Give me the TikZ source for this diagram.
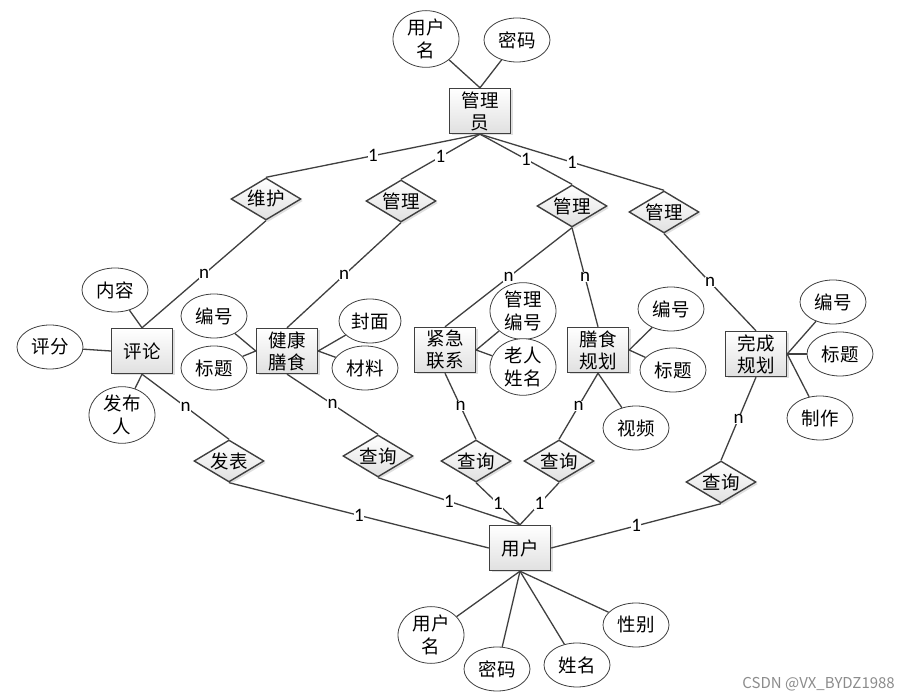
\documentclass[tikz,border=0pt]{standalone}
\usepackage{fontspec}
\setmainfont{Carlito}
\newfontfamily\cjk{Noto Sans CJK SC}
\usetikzlibrary{shapes.geometric,shadows}
\definecolor{ln}{HTML}{404040}
\tikzset{
  ent/.style={rectangle,draw=ln,line width=1.4pt,minimum width=61pt,minimum height=45pt,inner sep=0pt,
    top color=white,bottom color=black!12,align=center,font=\cjk\fontsize{18.5}{22}\selectfont,
    drop shadow={shadow xshift=2pt,shadow yshift=-2pt,opacity=0.25}},
  attr/.style={ellipse,draw=ln,line width=0.8pt,fill=white,minimum width=66pt,minimum height=44pt,inner sep=0pt,
    align=center,font=\cjk\fontsize{18.5}{23}\selectfont},
  rel/.style={diamond,draw=ln,line width=1.4pt,aspect=1.67,minimum width=70pt,minimum height=42pt,inner sep=0pt,
    top color=white,bottom color=black!12,
    drop shadow={shadow xshift=2pt,shadow yshift=-2pt,opacity=0.25}},
  rtext/.style={font=\cjk\fontsize{18.5}{22}\selectfont,inner sep=0pt},
  con/.style={draw=ln,line width=1.3pt},
  card/.style={fill=white,inner sep=0.5pt,font=\fontsize{19}{19}\selectfont,text=black}
}
\begin{document}
\begin{tikzpicture}[x=1pt,y=-1pt]
\useasboundingbox[fill=white] (0,0) rectangle (898,700);
% entities
\node[ent] (admin) at (480,111) {管理\\员};
\node[ent] (pl) at (142,351) {评论};
\node[ent] (jk) at (287,351) {健康\\膳食};
\node[ent] (jj) at (445,350) {紧急\\联系};
\node[ent] (ss) at (598,350) {膳食\\规划};
\node[ent] (wc) at (756,354) {完成\\规划};
\node[ent] (yh) at (520,548) {用户};
% relationships
\node[rel,label={[rtext]center:维护}] (r1) at (266,199) {};
\node[rel,label={[rtext]center:管理}] (r2) at (401,201) {};
\node[rel,label={[rtext]center:管理}] (r3) at (572,206) {};
\node[rel,label={[rtext]center:管理}] (r4) at (664,212) {};
\node[rel,label={[rtext]center:发表}] (q1) at (229,461) {};
\node[rel,label={[rtext]center:查询}] (q2) at (378,456) {};
\node[rel,label={[rtext]center:查询}] (q3) at (476,461) {};
\node[rel,label={[rtext]center:查询}] (q4) at (559,461) {};
\node[rel,label={[rtext]center:查询}] (q5) at (721,482) {};
% attributes
\node[attr] (a1) at (426,39) {用户\\名};
\node[attr] (a2) at (517,40) {密码};
\node[attr] (b1) at (115,290) {内容};
\node[attr] (b2) at (50,347) {评分};
\node[attr] (b3) at (122,415) {发布\\人};
\node[attr] (c1) at (214,316) {编号};
\node[attr] (c2) at (214,368) {标题};
\node[attr,minimum width=62pt] (c3) at (370,321) {封面};
\node[attr] (c4) at (365,368) {材料};
\node[attr] (d1) at (523,311) {管理\\编号};
\node[attr] (d2) at (523,367) {老人\\姓名};
\node[attr] (e1) at (671,309) {编号};
\node[attr] (e2) at (673,370) {标题};
\node[attr] (e3) at (636,428) {视频};
\node[attr] (f1) at (833,302) {编号};
\node[attr] (f2) at (840,354) {标题};
\node[attr] (f3) at (820,418) {制作};
\node[attr,minimum height=50pt] (g1) at (431,635) {用户\\名};
\node[attr] (g2) at (497,669) {密码};
\node[attr] (g3) at (577,665) {姓名};
\node[attr] (g4) at (636,625) {性别};
% attribute connectors
\draw[con] (a1) -- (admin.north);
\draw[con] (a2) -- (admin.north);
\draw[con] (b1) -- (pl.north);
\draw[con] (b2) -- (pl.west);
\draw[con] (b3) -- (pl.south);
\draw[con] (c1) -- (jk.west);
\draw[con] (c2) -- (jk.west);
\draw[con] (c3) -- (jk.east);
\draw[con] (c4) -- (jk.east);
\draw[con] (d1) -- (jj.east);
\draw[con] (d2) -- (jj.east);
\draw[con] (e1) -- (ss.east);
\draw[con] (e2) -- (ss.east);
\draw[con] (e3) -- (ss.south);
\draw[con] (f1) -- (wc.east);
\draw[con] (f2) -- (wc.east);
\draw[con] (f3) -- (wc.east);
\draw[con] (g1) -- (yh.south);
\draw[con] (g2) -- (yh.south);
\draw[con] (g3) -- (yh.south);
\draw[con] (g4) -- (yh.south);
% relationship connectors
\draw[con] (admin.south) -- node[card]{1} (r1.north);
\draw[con] (admin.south) -- node[card]{1} (r2.north);
\draw[con] (admin.south) -- node[card]{1} (r3.north);
\draw[con] (admin.south) -- node[card]{1} (r4.north);
\draw[con] (r1.south) -- node[card]{n} (pl.north);
\draw[con] (r2.south) -- node[card]{n} (jk.north);
\draw[con] (r3.south) -- node[card]{n} (jj.north);
\draw[con] (r3.south) -- node[card]{n} (ss.north);
\draw[con] (r4.south) -- node[card]{n} (wc.north);
\draw[con] (pl.south) -- node[card]{n} (q1.north);
\draw[con] (jk.south) -- node[card]{n} (q2.north);
\draw[con] (jj.south) -- node[card]{n} (q3.north);
\draw[con] (ss.south) -- node[card]{n} (q4.north);
\draw[con] (wc.south) -- node[card]{n} (q5.north);
\draw[con] (q1.south) -- node[card]{1} (yh.west);
\draw[con] (q2.south) -- node[card]{1} (yh.north);
\draw[con] (q3.south) -- node[card]{1} (yh.north);
\draw[con] (q4.south) -- node[card]{1} (yh.north);
\draw[con] (q5.south) -- node[card]{1} (yh.east);
% watermark
\node[font=\cjk\fontsize{15}{15}\selectfont,text=black!45,anchor=east,inner sep=0pt] (wm) at (895,684) {CSDN @VX\_BYDZ1988};
\end{tikzpicture}
\end{document}
